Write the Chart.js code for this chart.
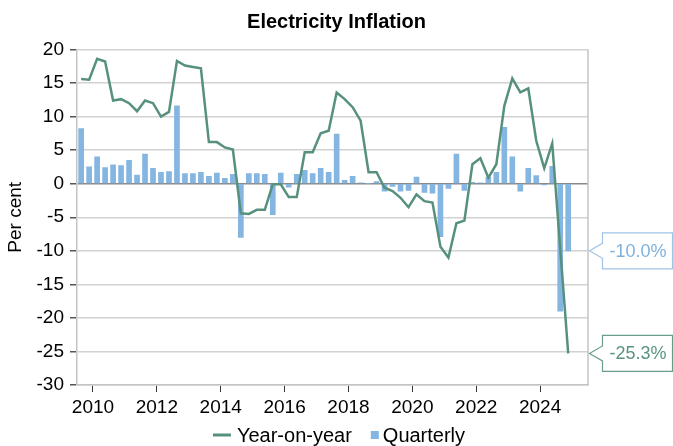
<!DOCTYPE html>
<html>
<head>
<meta charset="utf-8">
<script src="https://cdn.jsdelivr.net/npm/chart.js@4.4.1/dist/chart.umd.min.js"></script>
<style>
  html, body { margin: 0; padding: 0; background: #fff; }
  canvas { display: block; }
</style>
</head>
<body>
<canvas id="chart" width="673" height="446"></canvas>
<script>
// quarterly observations, Q3 2009 .. Q4 2024
const quarters = [
  '2009-Q3', '2009-Q4',
  '2010-Q1', '2010-Q2', '2010-Q3', '2010-Q4',
  '2011-Q1', '2011-Q2', '2011-Q3', '2011-Q4',
  '2012-Q1', '2012-Q2', '2012-Q3', '2012-Q4',
  '2013-Q1', '2013-Q2', '2013-Q3', '2013-Q4',
  '2014-Q1', '2014-Q2', '2014-Q3', '2014-Q4',
  '2015-Q1', '2015-Q2', '2015-Q3', '2015-Q4',
  '2016-Q1', '2016-Q2', '2016-Q3', '2016-Q4',
  '2017-Q1', '2017-Q2', '2017-Q3', '2017-Q4',
  '2018-Q1', '2018-Q2', '2018-Q3', '2018-Q4',
  '2019-Q1', '2019-Q2', '2019-Q3', '2019-Q4',
  '2020-Q1', '2020-Q2', '2020-Q3', '2020-Q4',
  '2021-Q1', '2021-Q2', '2021-Q3', '2021-Q4',
  '2022-Q1', '2022-Q2', '2022-Q3', '2022-Q4',
  '2023-Q1', '2023-Q2', '2023-Q3', '2023-Q4',
  '2024-Q1', '2024-Q2', '2024-Q3', '2024-Q4'
];

const yearOnYear = [
  15.6, 15.5,
  18.6, 18.2, 12.4, 12.6,
  12.0, 10.8, 12.4, 12.0,
  10.0, 10.7, 18.3, 17.6,
  17.4, 17.2, 6.2, 6.2,
  5.4, 5.1, -4.4, -4.5,
  -3.9, -3.9, -0.1, -0.1,
  -2.0, -2.0, 4.7, 4.7,
  7.5, 7.9, 13.6, 12.6,
  11.4, 9.4, 1.7, 1.7,
  -0.6, -1.1, -2.1, -3.5,
  -1.6, -2.6, -2.8, -9.4,
  -11.0, -5.9, -5.5, 2.9,
  3.8, 0.9, 2.9, 11.6,
  15.7, 13.6, 14.2, 6.4,
  2.3, 6.0, -9.6, -25.3
];

const quarterly = [
  8.2, 2.5,
  4.0, 2.4, 2.8, 2.7,
  3.5, 1.3, 4.4, 2.3,
  1.7, 1.8, 11.6, 1.5,
  1.5, 1.7, 1.1, 1.6,
  0.8, 1.4, -8.0, 1.5,
  1.5, 1.4, -4.6, 1.6,
  -0.5, 1.4, 2.0, 1.5,
  2.3, 1.7, 7.4, 0.5,
  1.1, 0.1, 0.0, 0.3,
  -1.1, -0.4, -1.1, -1.0,
  1.0, -1.3, -1.4, -7.9,
  -0.7, 4.4, -1.0, 0.2,
  0.1, 1.0, 1.7, 8.4,
  4.0, -1.1, 2.3, 1.2,
  -0.2, 2.6, -19.0, -10.0
];

const xTickYears = [2010, 2012, 2014, 2016, 2018, 2020, 2022, 2024];
const yMin = -30, yMax = 20, yStep = 5;

const FONT = "'Liberation Sans', Arial, sans-serif";
const GREEN = '#57917e';
const BLUE = '#85b5e1';

// place each quarter at its middle month
function quarterPos(label) {
  const [yr, q] = label.split('-Q').map(Number);
  return yr + (q - 1) / 4 + 0.13;
}
const xs = quarters.map(quarterPos);

const calloutStyle = {
  'Year-on-year': { border: '#6a9e8b', text: '#5a9481' },
  'Quarterly': { border: '#9fc4e7', text: '#7fb1dd' }
};

// boxes on the right showing the latest value of each series
const calloutPlugin = {
  id: 'callouts',
  afterDraw(chart) {
    const { ctx, chartArea, scales } = chart;
    chart.data.datasets.forEach(ds => {
      const last = ds.data[ds.data.length - 1].y;
      const st = calloutStyle[ds.label];
      const y = scales.y.getPixelForValue(last);
      const tip = chartArea.right + 1.5;
      const x0 = tip + 13, x1 = 672.5, h = 18, n = 7.5;
      ctx.save();
      ctx.beginPath();
      ctx.moveTo(tip, y);
      ctx.lineTo(x0, y - n);
      ctx.lineTo(x0, y - h);
      ctx.lineTo(x1, y - h);
      ctx.lineTo(x1, y + h);
      ctx.lineTo(x0, y + h);
      ctx.lineTo(x0, y + n);
      ctx.closePath();
      ctx.fillStyle = '#fff';
      ctx.fill();
      ctx.strokeStyle = st.border;
      ctx.lineWidth = 1.2;
      ctx.stroke();
      ctx.fillStyle = st.text;
      ctx.font = '18px ' + FONT;
      ctx.textBaseline = 'middle';
      ctx.fillText(last.toFixed(1) + '%', x0 + 7, y + 1);
      ctx.restore();
    });
  }
};

// right-hand frame line
const framePlugin = {
  id: 'frame',
  beforeDatasetsDraw(chart) {
    const { ctx, chartArea } = chart;
    ctx.save();
    ctx.strokeStyle = '#c4c4c4';
    ctx.lineWidth = 1.5;
    ctx.beginPath();
    ctx.moveTo(chartArea.right, chartArea.top);
    ctx.lineTo(chartArea.right, chartArea.bottom);
    ctx.stroke();
    ctx.restore();
  }
};

// legend under the axis: line sample + square sample
const legendPlugin = {
  id: 'bottomLegend',
  afterDraw(chart) {
    const ctx = chart.ctx;
    const cy = 435;
    ctx.save();
    ctx.font = '20px ' + FONT;
    ctx.textBaseline = 'middle';
    const [lineDs, barDs] = chart.data.datasets;
    const w1 = ctx.measureText(lineDs.label).width;
    const w2 = ctx.measureText(barDs.label).width;
    const total = 18 + 6 + w1 + 19 + 8 + 4 + w2;
    let x = 339 - total / 2;
    ctx.strokeStyle = lineDs.borderColor;
    ctx.lineWidth = 3;
    ctx.beginPath();
    ctx.moveTo(x, cy);
    ctx.lineTo(x + 18, cy);
    ctx.stroke();
    x += 24;
    ctx.fillStyle = '#000';
    ctx.fillText(lineDs.label, x, cy + 1);
    x += w1 + 19;
    ctx.fillStyle = barDs.backgroundColor;
    ctx.fillRect(x, cy - 4, 8, 8);
    x += 12;
    ctx.fillStyle = '#000';
    ctx.fillText(barDs.label, x, cy + 1);
    ctx.restore();
  }
};

new Chart(document.getElementById('chart'), {
  data: {
    datasets: [
      {
        type: 'line',
        label: 'Year-on-year',
        data: xs.map((x, i) => ({ x, y: yearOnYear[i] })),
        borderColor: GREEN,
        borderWidth: 2.5,
        pointRadius: 0,
        tension: 0,
        order: 0
      },
      {
        type: 'bar',
        label: 'Quarterly',
        data: xs.map((x, i) => ({ x, y: quarterly[i] })),
        backgroundColor: BLUE,
        barThickness: 5,
        order: 1
      }
    ]
  },
  options: {
    responsive: false,
    animation: false,
    events: [],
    layout: { padding: { left: 0, right: 0, top: 0, bottom: 28 } },
    plugins: {
      legend: { display: false },
      tooltip: { enabled: false },
      title: {
        display: true,
        text: 'Electricity Inflation',
        color: '#000',
        font: { family: FONT, size: 20, weight: 'bold' },
        padding: { top: 10, bottom: 15.5 }
      }
    },
    scales: {
      x: {
        type: 'linear',
        min: 2009.5,
        max: 2025.5,
        offset: false,
        afterBuildTicks: axis => { axis.ticks = xTickYears.map(v => ({ value: v })); },
        afterFit: axis => { axis.height = 33; },
        border: { display: true, color: '#c4c4c4', width: 1.5 },
        grid: {
          offset: false,
          drawOnChartArea: false,
          drawTicks: true,
          tickLength: 7,
          tickColor: '#333'
        },
        ticks: {
          padding: 4,
          maxRotation: 0,
          autoSkip: false,
          color: '#000',
          font: { family: FONT, size: 19 },
          callback: v => String(v)
        }
      },
      y: {
        min: yMin,
        max: yMax,
        afterFit: axis => { axis.width = 77; },
        border: { display: true, color: '#c4c4c4', width: 1.5 },
        title: {
          display: true,
          text: 'Per cent',
          color: '#000',
          font: { family: FONT, size: 19 }
        },
        grid: {
          color: c => (c.tick && c.tick.value === 0) ? '#8a8a8a' : '#d2d2d2',
          lineWidth: 1.5,
          tickLength: 7,
          tickColor: '#555'
        },
        ticks: {
          stepSize: yStep,
          padding: 6,
          color: '#000',
          font: { family: FONT, size: 19 },
          callback: v => String(v)
        }
      },
      // empty right-hand axis reserving room for the value callouts
      yRight: {
        position: 'right',
        min: yMin,
        max: yMax,
        afterFit: axis => { axis.width = 85; },
        border: { display: false },
        grid: { display: false },
        ticks: { display: false }
      }
    }
  },
  plugins: [framePlugin, calloutPlugin, legendPlugin]
});
</script>
</body>
</html>
